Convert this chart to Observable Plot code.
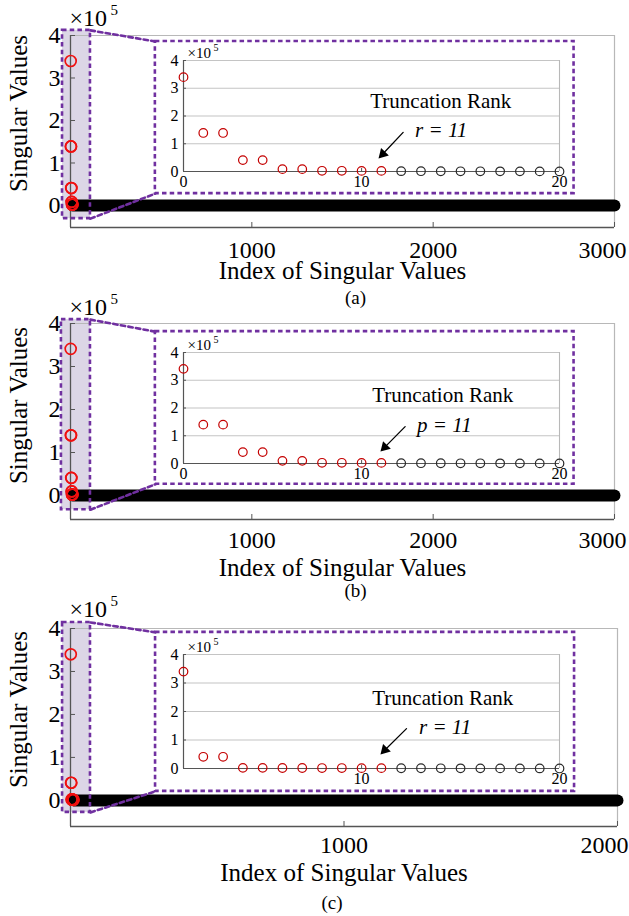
<!DOCTYPE html>
<html><head><meta charset="utf-8">
<script src="https://cdn.jsdelivr.net/npm/d3@7"></script>
<script src="https://cdn.jsdelivr.net/npm/@observablehq/plot@0.6"></script>
<style>
body{margin:0;background:#fff;}
#root{position:relative;width:629px;height:916px;overflow:hidden;background:#fff;}
#root svg{position:absolute;overflow:visible;}
#root svg, #root svg text, #root svg g{font-family:"Liberation Serif","Times New Roman",Times,serif !important;}
</style></head><body><div id="root"></div>
<script>
// ---------------- data ----------------
const captions = ["(a)", "(b)", "(c)"];
const rankText = ["r = 11", "p = 11", "r = 11"];
const annotationText = "Truncation Rank";
const yLabel = "Singular Values";
const xLabel = "Index of Singular Values";
const signalCount = [3000, 3000, 2000];
const truncationRank = [11, 11, 11];
const mainXTicks = [[1000, 2000, 3000], [1000, 2000, 3000], [1000, 2000]];
const mainYTicks = [0, 1, 2, 3, 4];
const insetIndex = [1, 2, 3, 4, 5, 6, 7, 8, 9, 10, 11, 12, 13, 14, 15, 16, 17, 18, 19, 20];
const insetXTickPos = [[1, 10, 20], [1, 10, 20], [10, 20]];
const insetXTickText = [["0", "10", "20"], ["0", "10", "20"], ["10", "20"]];
const insetYTicks = [0, 1, 2, 3, 4];
// leading singular values (x10^5)
const svA = [3.40, 1.39, 1.39, 0.41, 0.41, 0.085, 0.085, 0.025, 0.025, 0.022, 0.022, 0.012, 0.011, 0.009, 0.008, 0.007, 0.006, 0.005, 0.004, 0.003];
const svB = [3.41, 1.40, 1.40, 0.41, 0.41, 0.095, 0.095, 0.025, 0.025, 0.022, 0.022, 0.012, 0.011, 0.009, 0.008, 0.007, 0.006, 0.005, 0.004, 0.003];
const svC = [3.40, 0.41, 0.41, 0.022, 0.022, 0.018, 0.018, 0.015, 0.015, 0.012, 0.012, 0.009, 0.008, 0.007, 0.006, 0.005, 0.004, 0.004, 0.003, 0.002];
const tailValue = [0, 0, 0]; // remaining singular values are visually zero
const series = [svA, svB, svC];

// ---------------- layout / style ----------------
const FONT = "Liberation Serif";
const PURPLE = "#7030a0", LAV = "#dcd6e6", RED_MAIN = "#f01010", RED_IN = "#c40000";
const AXIS = "#555", FRAME = "#b8b8b8", GRID = "#c4c4c4";
const DASH = "4.5,3.2";
const mainGeo = [
  {top: 0,   h: 305, mt: 35, mb: 78, mr: 15, ymin: -0.518, xpad: 13, xl: 43, cap: 70, capdx: 13, e: -17, lastDx: 12,
   zoom: {x1: -44, x2: 110, y1: -0.31, y2: 4.12}, box: {x1: 468, x2: 2777, y1: 0.28, y2: 3.86}, ylab: -18},
  {top: 300, h: 305, mt: 23, mb: 86, mr: 15, ymin: -0.558, xpad: 11, xl: 48, cap: 71, capdx: 13, e: -16, lastDx: 12,
   zoom: {x1: -50, x2: 110, y1: -0.33, y2: 4.09}, box: {x1: 468, x2: 2777, y1: 0.26, y2: 3.81}, ylab: -16},
  {top: 605, h: 311, mt: 23, mb: 90, mr: 12, ymin: -0.608, xpad: 9, xl: 46, cap: 76, capdx: -12, e: -19, lastDx: 11,
   zoom: {x1: -29, x2: 73, y1: -0.28, y2: 4.14}, box: {x1: 311, x2: 1843, y1: 0.21, y2: 3.91}, ylab: -18}
];
const insetGeo = [
  {y4: 60, y0: 171, tr: [14.0, 2.52], rl: [12.7, 1.48], arr: [12.1, 1.41, 10.95, 0.54]},
  {y4: 352, y0: 463, tr: [14.1, 2.45], rl: [12.8, 1.37], arr: [12.2, 1.33, 11.05, 0.50]},
  {y4: 654, y0: 768, tr: [14.1, 2.46], rl: [12.9, 1.44], arr: [12.27, 1.40, 11.05, 0.56]}
];

const root = document.getElementById("root");

function mainPlot(k) {
  const g = mainGeo[k];
  const N = signalCount[k];
  const sv = series[k];
  const lead = sv.slice(0, truncationRank[k]).map((v, i) => ({i: insetIndex[i], v}));
  const tail = [{i: truncationRank[k] + 1, v: tailValue[k]}, {i: N, v: tailValue[k]}];
  const conn = [
    [{x: g.zoom.x2, y: g.zoom.y2}, {x: g.box.x1, y: g.box.y2}],
    [{x: g.zoom.x2, y: g.zoom.y1}, {x: g.box.x1, y: g.box.y1}]
  ];
  const ticks = mainXTicks[k];
  const svg = Plot.plot({
    width: 629, height: g.h,
    marginLeft: 70, marginRight: g.mr, marginTop: g.mt, marginBottom: g.mb,
    x: {domain: [0, N], axis: null, label: null},
    y: {domain: [g.ymin, 4], axis: null, label: null},
    style: {fontFamily: FONT, background: "transparent", overflow: "visible", color: "black"},
    marks: [
      Plot.rect([g.zoom], {x1: "x1", x2: "x2", y1: "y1", y2: "y2", fill: LAV}),
      Plot.ruleY([4], {stroke: FRAME, strokeWidth: 1.2}),
      Plot.ruleX([N], {stroke: FRAME, strokeWidth: 1.2}),
      Plot.ruleX([0], {stroke: AXIS, strokeWidth: 1.3}),
      Plot.ruleY([g.ymin], {stroke: AXIS, strokeWidth: 1.3}),
      Plot.axisX(ticks, {tickSize: -5, stroke: AXIS, tickFormat: () => "", label: null}),
      Plot.axisX(ticks.slice(0, -1), {tickSize: 0, tickPadding: g.xpad, fontSize: 24, fontFamily: FONT, fill: "black", label: null, tickFormat: d => String(d)}),
      Plot.axisX(ticks.slice(-1), {tickSize: 0, tickPadding: g.xpad, fontSize: 24, fontFamily: FONT, fill: "black", label: null, textAnchor: "end", dx: g.lastDx, tickFormat: d => String(d)}),
      Plot.axisY(mainYTicks, {tickSize: -5, stroke: AXIS, tickFormat: () => "", label: null}),
      Plot.axisY(mainYTicks, {tickSize: 0, tickPadding: 10, fontSize: 24, fontFamily: FONT, fill: "black", label: null, tickFormat: d => String(d)}),
      Plot.line(tail, {x: "i", y: "v", stroke: "black", strokeWidth: 12, strokeLinecap: "round"}),
      Plot.dot(lead, {x: "i", y: "v", r: 5.5, stroke: RED_MAIN, strokeWidth: 1.7, fill: "none"}),
      Plot.rect([g.zoom], {x1: "x1", x2: "x2", y1: "y1", y2: "y2", fill: "none", stroke: PURPLE, strokeWidth: 2.6, strokeDasharray: DASH}),
      Plot.rect([g.box], {x1: "x1", x2: "x2", y1: "y1", y2: "y2", fill: "white", stroke: PURPLE, strokeWidth: 2.6, strokeDasharray: DASH}),
      ...conn.map(c => Plot.line(c, {x: "x", y: "y", stroke: PURPLE, strokeWidth: 2.6, strokeDasharray: DASH})),
      Plot.text(["×10"], {frameAnchor: "top-left", dx: -1, dy: g.e, textAnchor: "start", lineAnchor: "middle", fontSize: 24, fontFamily: FONT}),
      Plot.text(["5"], {frameAnchor: "top-left", dx: 40, dy: g.e - 8, textAnchor: "start", lineAnchor: "middle", fontSize: 15, fontFamily: FONT}),
      Plot.text([yLabel], {frameAnchor: "left", dx: -52, dy: g.ylab, rotate: -90, textAnchor: "middle", lineAnchor: "middle", fontSize: 25, fontFamily: FONT}),
      Plot.text([xLabel], {frameAnchor: "bottom", dy: g.xl, textAnchor: "middle", lineAnchor: "middle", fontSize: 25, fontFamily: FONT}),
      Plot.text([captions[k]], {frameAnchor: "bottom", dx: g.capdx, dy: g.cap, textAnchor: "middle", lineAnchor: "middle", fontSize: 19, fontFamily: FONT})
    ]
  });
  svg.style.left = "0px";
  svg.style.top = g.top + "px";
  root.appendChild(svg);
}

function insetPlot(k) {
  const g = insetGeo[k];
  const sv = series[k];
  const pts = sv.map((v, i) => ({i: insetIndex[i], v, kept: insetIndex[i] <= truncationRank[k]}));
  const mt = 22, mb = 30;
  const svg = Plot.plot({
    width: 440, height: (g.y0 - g.y4) + mt + mb,
    marginLeft: 43, marginRight: 21, marginTop: mt, marginBottom: mb,
    x: {domain: [1, 20], axis: null, label: null},
    y: {domain: [0, 4], axis: null, label: null},
    style: {fontFamily: FONT, background: "transparent", overflow: "visible", color: "black"},
    marks: [
      Plot.ruleY([1, 2, 3, 4], {stroke: GRID, strokeWidth: 1.1}),
      Plot.ruleX([20], {stroke: FRAME, strokeWidth: 1.1}),
      Plot.ruleX([1], {stroke: AXIS, strokeWidth: 1.2}),
      Plot.ruleY([0], {stroke: AXIS, strokeWidth: 1.2}),
      Plot.axisY(insetYTicks, {tickSize: -3, stroke: AXIS, tickFormat: () => "", label: null}),
      Plot.axisY(insetYTicks, {tickSize: 0, tickPadding: 5, fontSize: 16, fontFamily: FONT, fill: "black", label: null, tickFormat: d => String(d)}),
      Plot.axisX([10], {tickSize: -3, stroke: AXIS, tickFormat: () => "", label: null}),
      Plot.axisX(insetXTickPos[k], {tickSize: 0, tickPadding: 4, fontSize: 16, fontFamily: FONT, fill: "black", label: null,
        tickFormat: d => insetXTickText[k][insetXTickPos[k].indexOf(d)]}),
      Plot.dot(pts, {x: "i", y: "v", r: 4.3, strokeWidth: 1.2, fill: "none", stroke: d => d.kept ? RED_IN : "#2a2a2a"}),
      Plot.text(["×10"], {frameAnchor: "top-left", dx: 4, dy: -7, textAnchor: "start", lineAnchor: "middle", fontSize: 15, fontFamily: FONT}),
      Plot.text(["5"], {frameAnchor: "top-left", dx: 30, dy: -13, textAnchor: "start", lineAnchor: "middle", fontSize: 10, fontFamily: FONT}),
      Plot.text([annotationText], {x: () => g.tr[0], y: () => g.tr[1], textAnchor: "middle", lineAnchor: "middle", fontSize: 21, fontFamily: FONT}),
      Plot.text([rankText[k]], {x: () => g.rl[0], y: () => g.rl[1], textAnchor: "start", lineAnchor: "middle", fontSize: 21, fontStyle: "italic", fontFamily: FONT}),
      Plot.arrow([g.arr], {x1: d => d[0], y1: d => d[1], x2: d => d[2], y2: d => d[3], stroke: "black", strokeWidth: 1.3, headLength: 0}),
      Plot.dot([g.arr], {x: d => d[2], y: d => d[3], symbol: "triangle", r: 4, fill: "black", stroke: "none", rotate: 224, dx: 2.4, dy: -2.5})
    ]
  });
  svg.style.left = "140px";
  svg.style.top = (g.y4 - mt) + "px";
  root.appendChild(svg);
}

for (let k = 0; k < 3; k++) { mainPlot(k); insetPlot(k); }
</script>
</body></html>
